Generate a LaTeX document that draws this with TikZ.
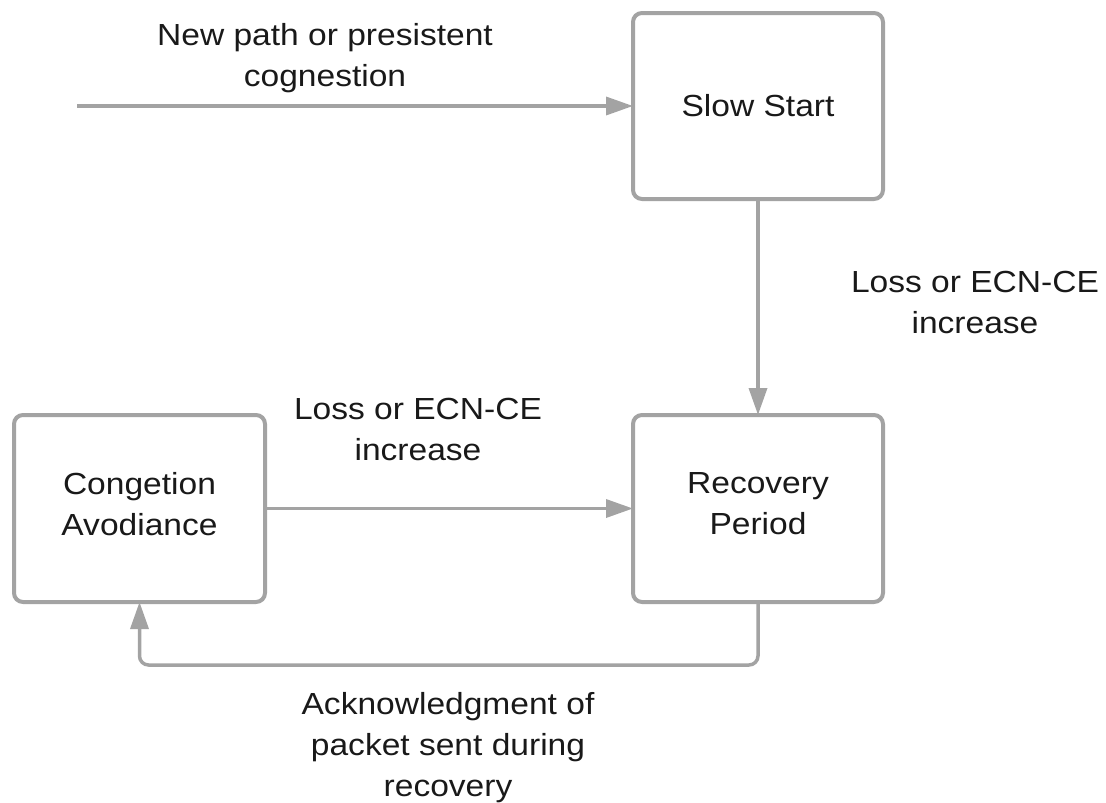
\documentclass[tikz,border=0pt]{standalone}
\usepackage{fontspec}
\setmainfont[FakeStretch=1.1]{Liberation Sans}
\usetikzlibrary{arrows.meta}

\definecolor{edgegray}{RGB}{163,163,163}
\definecolor{inkblack}{RGB}{25,25,25}

\tikzset{
  statebox/.style={draw=edgegray, line width=4pt, rounded corners=9pt,
    fill=white, align=center, text=inkblack, inner sep=0pt, outer sep=0pt,
    font=\fontsize{30.5}{41}\selectfont},
  edgelabel/.style={align=center, text=inkblack, inner sep=0pt,
    font=\fontsize{30.5}{41}\selectfont},
  flow/.style={draw=edgegray, line width=3.5pt,
    -{Triangle[length=27pt,width=18pt]}}
}

\begin{document}
\begin{tikzpicture}[x=1pt, y=-1pt]
  \useasboundingbox (0,0) rectangle (1106,803);

  % states
  \node[statebox, minimum width=250pt, minimum height=186pt]
    (slow) at (758,106) {Slow Start};
  \node[statebox, minimum width=250pt, minimum height=187pt, text depth=9pt]
    (recov) at (758,508.5) {Recovery\\Period};
  \node[statebox, minimum width=251pt, minimum height=187pt, text depth=9pt]
    (avoid) at (139.5,508.5) {Congetion\\Avodiance};

  % entry point
  \coordinate (entry) at (77,106);

  % transitions
  \draw[flow] (entry) -- (slow.west);
  \draw[flow] (slow.south) -- (recov.north);
  \draw[flow] (avoid.east) -- (recov.west);
  \draw[flow, rounded corners=9pt] (recov.south) -- ++(0,63) -| (avoid.south);

  % transition labels
  \node[edgelabel] (lbl-entry) at (325,58.6) {New path or presistent\\cognestion};
  \node[edgelabel] (lbl-loss1) at (975,302.8) {Loss or ECN-CE\\increase};
  \node[edgelabel] (lbl-loss2) at (418,429.8) {Loss or ECN-CE\\increase};
  \node[edgelabel] (lbl-ack) at (448,748) {Acknowledgment of\\packet sent during\\recovery};
\end{tikzpicture}
\end{document}
